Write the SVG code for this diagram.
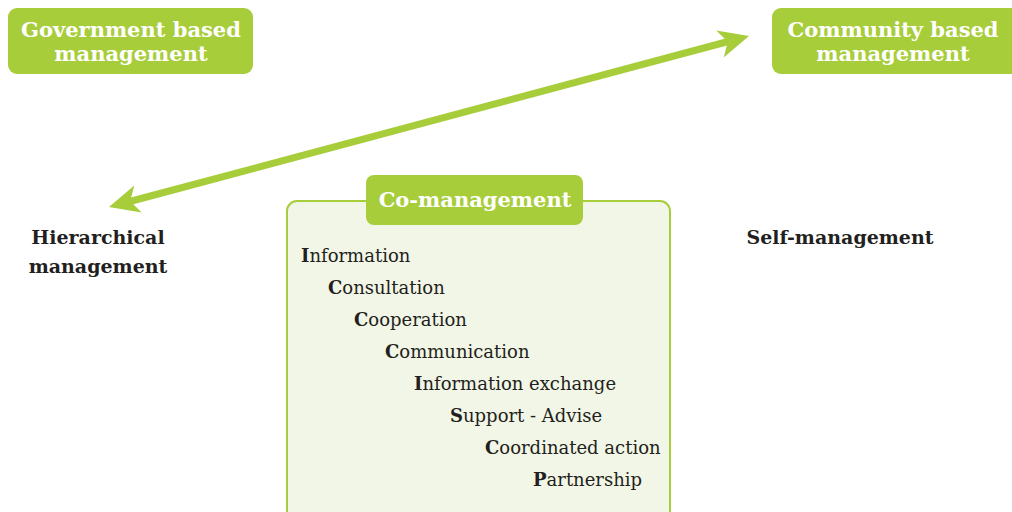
<svg xmlns="http://www.w3.org/2000/svg" width="1012" height="512" viewBox="0 0 1012 512">
<defs>
<style>
.box{fill:#a7cd3a}
.hdr{font-family:"DejaVu Serif","Liberation Serif",serif;font-weight:bold;font-size:21px;fill:#fff;text-anchor:middle}
.lbl{font-family:"DejaVu Serif","Liberation Serif",serif;font-weight:bold;font-size:19px;fill:#231f20;text-anchor:middle}
.item{font-family:"DejaVu Serif","Liberation Serif",serif;font-size:18px;fill:#231f20}
.item tspan.b{font-weight:bold}
.ah{fill:#a7cd3a}
</style>
</defs>
<g id="connectors">
<line x1="128" y1="202" x2="730" y2="41" stroke="#a7cd3a" stroke-width="7"/>
<path class="ah" d="M109,207 L134.3,185.6 L130.2,201.2 L141.7,212.6 Z"/>
<path class="ah" d="M749,36 L723.7,57.4 L727.8,41.8 L716.3,30.4 Z"/>
</g>
<g id="gov">
<rect class="box" x="8" y="8" width="245" height="66" rx="9"/>
<text class="hdr" x="131" y="37">Government based</text>
<text class="hdr" x="131" y="61">management</text>
</g>
<g id="community">
<rect class="box" x="772" y="8" width="250" height="66" rx="9"/>
<text class="hdr" x="893" y="37">Community based</text>
<text class="hdr" x="893" y="61">management</text>
</g>
<g id="hierarchical">
<text class="lbl" x="98" y="244">Hierarchical</text>
<text class="lbl" x="98" y="273">management</text>
</g>
<g id="self">
<text class="lbl" x="840" y="244">Self-management</text>
</g>
<g id="co">
<rect x="287" y="201" width="383" height="330" rx="10" fill="#f2f6e6" stroke="#a7cd3a" stroke-width="2"/>
<rect class="box" x="366" y="175" width="217" height="50" rx="8"/>
<text class="hdr" x="475" y="207">Co-management</text>
<text class="item" x="301" y="262"><tspan class="b">I</tspan>nformation</text>
<text class="item" x="328" y="294"><tspan class="b">C</tspan>onsultation</text>
<text class="item" x="354" y="326"><tspan class="b">C</tspan>ooperation</text>
<text class="item" x="385" y="358"><tspan class="b">C</tspan>ommunication</text>
<text class="item" x="414" y="390"><tspan class="b">I</tspan>nformation exchange</text>
<text class="item" x="450" y="422"><tspan class="b">S</tspan>upport - Advise</text>
<text class="item" x="485" y="454"><tspan class="b">C</tspan>oordinated action</text>
<text class="item" x="533" y="486"><tspan class="b">P</tspan>artnership</text>
</g>
</svg>
